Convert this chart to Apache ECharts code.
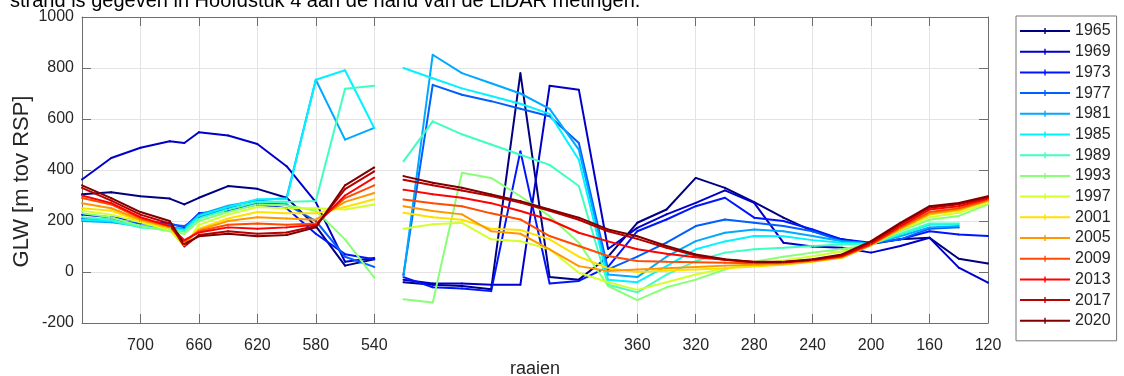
<!DOCTYPE html>
<html>
<head>
<meta charset="utf-8">
<script src="https://cdn.jsdelivr.net/npm/echarts@6/dist/echarts.min.js"></script>
<style>
  html, body { margin: 0; padding: 0; background: #fff; }
  #chart { width: 1124px; height: 376px; }
</style>
</head>
<body>
<div id="chart"></div>
<script>
// raaien (transect numbers) of the two measured stretches
const raaiLeft = [740, 720, 700, 680, 670, 660, 640, 620, 600, 580, 560, 540];
const raaiRight = [520, 500, 480, 460, 440, 420, 400, 380, 360, 340, 320, 300, 280, 260, 240, 220, 200, 180, 160, 140, 120];
const xTicks = [700, 660, 620, 580, 540, 360, 320, 280, 240, 200, 160, 120];
const years = ['1965', '1969', '1973', '1977', '1981', '1985', '1989', '1993', '1997', '2001', '2005', '2009', '2013', '2017', '2020'];

// GLW [m tov RSP], left stretch
const left1965 = [305, 313, 297, 288, 265, 291, 337, 326, 291, 180, 25, 50];
const left1969 = [363, 447, 487, 513, 506, 548, 535, 502, 415, 274, 40, 55];
const left1973 = [225, 215, 200, 190, 175, 230, 240, 265, 250, 150, 70, 50];
const left1977 = [210, 205, 190, 185, 180, 215, 250, 270, 265, 200, 60, 20];
const left1981 = [200, 195, 180, 175, 170, 225, 260, 280, 290, 754, 519, 565];
const left1985 = [205, 200, 175, 170, 165, 220, 255, 285, 285, 754, 791, 565];
const left1989 = [215, 205, 175, 165, 160, 210, 245, 275, 275, 278, 719, 730];
const left1993 = [230, 215, 180, 160, 150, 200, 235, 265, 262, 240, 128, -22];
const left1997 = [240, 225, 195, 165, 100, 185, 225, 255, 250, 250, 245, 265];
const left2001 = [250, 240, 200, 170, 105, 170, 210, 235, 230, 230, 255, 285];
const left2005 = [270, 250, 205, 175, 115, 165, 200, 215, 210, 205, 275, 310];
const left2009 = [290, 265, 210, 180, 120, 160, 185, 190, 185, 190, 290, 340];
const left2013 = [300, 270, 215, 180, 125, 155, 175, 170, 175, 185, 300, 370];
const left2017 = [330, 280, 225, 190, 100, 145, 160, 150, 155, 180, 325, 395];
const left2020 = [340, 290, 235, 200, 110, 140, 150, 140, 145, 175, 340, 410];

// GLW [m tov RSP], right stretch
const right1965 = [-40, -50, -55, -68, 780, -20, -30, 60, 193, 245, 369, 330, 274, 213, 160, 128, 110, 128, 134, 52, 33];
const right1969 = [-30, -45, -45, -50, -50, 730, 715, 90, 173, 226, 271, 320, 271, 115, 100, 95, 76, 102, 134, 17, -42];
const right1973 = [-20, -60, -65, -75, 474, -45, -35, 20, 160, 206, 258, 291, 213, 200, 167, 128, 115, 128, 160, 147, 141];
const right1977 = [-10, 734, 695, 670, 640, 611, 506, 10, 60, 115, 180, 206, 193, 180, 160, 121, 112, 128, 170, 175, null];
const right1981 = [-16, 852, 780, 740, 700, 640, 480, -10, -20, 60, 121, 154, 167, 160, 141, 121, 112, 140, 175, 180, null];
const right1985 = [800, 760, 720, 690, 660, 620, 440, -30, -40, 23, 89, 120, 141, 140, 125, 115, 110, 147, 185, 187, null];
const right1989 = [434, 591, 540, 500, 460, 420, 337, -50, -80, -10, 43, 76, 89, 95, 102, 108, 110, 150, 190, 190, null];
const right1993 = [-107, -120, 389, 369, 297, 219, 115, -55, -110, -60, -30, 10, 40, 60, 76, 90, 106, 160, 205, 220, 265];
const right1997 = [170, 187, 193, 128, 121, 89, -3, -40, -70, -40, -10, 15, 30, 45, 62, 80, 106, 165, 215, 232, 270];
const right2001 = [232, 215, 205, 170, 165, 128, 60, 15, 0, 5, 10, 15, 22, 28, 40, 56, 105, 165, 225, 240, 278];
const right2005 = [258, 239, 226, 160, 150, 89, 23, 4, 10, 15, 20, 25, 28, 32, 42, 58, 106, 170, 228, 245, 280];
const right2009 = [284, 270, 258, 230, 206, 141, 102, 63, 43, 40, 38, 36, 34, 36, 45, 60, 108, 175, 235, 250, 283];
const right2013 = [323, 305, 291, 270, 239, 205, 154, 120, 89, 72, 58, 48, 40, 40, 47, 62, 110, 180, 245, 258, 288];
const right2017 = [362, 340, 320, 298, 272, 240, 205, 160, 130, 95, 65, 48, 38, 38, 48, 66, 116, 188, 252, 266, 293];
const right2020 = [376, 350, 330, 304, 278, 245, 213, 167, 140, 102, 69, 50, 39, 39, 50, 69, 121, 193, 258, 271, 297];

const leftData = [left1965, left1969, left1973, left1977, left1981, left1985, left1989, left1993, left1997, left2001, left2005, left2009, left2013, left2017, left2020];
const rightData = [right1965, right1969, right1973, right1977, right1981, right1985, right1989, right1993, right1997, right2001, right2005, right2009, right2013, right2017, right2020];

// matlab jet colormap
function jet(t) {
  const c = v => Math.round(255 * Math.max(0, Math.min(1, v)));
  return 'rgb(' + c(1.5 - Math.abs(4 * t - 3)) + ',' + c(1.5 - Math.abs(4 * t - 2)) + ',' + c(1.5 - Math.abs(4 * t - 1)) + ')';
}

const font = 'Liberation Sans';
const axisColor = '#6e6e6e';
const textColor = '#262626';

const series = years.map((y, i) => {
  const data = [];
  raaiLeft.forEach((r, k) => data.push([r, leftData[i][k]]));
  data.push([530, '-']); // gap between the two stretches
  raaiRight.forEach((r, k) => {
    if (rightData[i][k] !== null) data.push([r, rightData[i][k]]);
  });
  return {
    name: y,
    type: 'line',
    data,
    color: jet((+y - 1965) / 55),
    lineStyle: { width: 2 },
    symbol: 'circle',
    symbolSize: 2,
    connectNulls: false
  };
});

const tickStyle = { inside: true, length: 9, lineStyle: { color: axisColor } };

const chart = echarts.init(document.getElementById('chart'));
const option = {
  animation: false,
  grid: { left: 82, right: 136, top: 17, bottom: 53, outerBoundsMode: 'none' },
  graphic: [{
    type: 'text',
    style: {
      x: 10,
      y: 11.5,
      verticalAlign: 'bottom',
      text: 'strand is gegeven in Hoofdstuk 4 aan de hand van de LiDAR metingen.',
      font: '20px Liberation Sans',
      fill: '#000'
    }
  }],
  legend: {
    orient: 'vertical',
    left: 1016,
    top: 16,
    itemWidth: 50,
    itemHeight: 6,
    itemGap: 4.7,
    padding: [7, 6, 12, 4],
    borderColor: '#777',
    borderWidth: 1,
    icon: 'path://M0,2H50V4H0ZM24.3,0H25.7V6H24.3Z',
    textStyle: { fontFamily: font, fontSize: 16, color: textColor },
    data: years
  },
  xAxis: [{
    type: 'value',
    inverse: true,
    min: 120,
    max: 740,
    name: 'raaien',
    nameLocation: 'middle',
    nameGap: 37,
    nameMoveOverlap: false,
    nameTextStyle: { fontFamily: font, fontSize: 18, color: textColor },
    axisLine: { onZero: false, lineStyle: { color: axisColor } },
    axisTick: Object.assign({ customValues: xTicks }, tickStyle),
    axisLabel: { customValues: xTicks, margin: 15, fontFamily: font, fontSize: 16, color: textColor },
    splitLine: { show: true, lineStyle: { color: '#e3e3e3' } }
  }, {
    type: 'value',
    position: 'top',
    inverse: true,
    min: 120,
    max: 740,
    axisLine: { onZero: false, lineStyle: { color: axisColor } },
    axisTick: Object.assign({ customValues: xTicks }, tickStyle),
    axisLabel: { show: false },
    splitLine: { show: false }
  }],
  yAxis: [{
    type: 'value',
    min: -200,
    max: 1000,
    interval: 200,
    name: 'GLW [m tov RSP]',
    nameLocation: 'middle',
    nameGap: 49,
    nameMoveOverlap: false,
    nameTextStyle: { fontFamily: font, fontSize: 22, color: textColor, padding: [0, 23, 0, 0] },
    axisLine: { show: true, onZero: false, lineStyle: { color: axisColor } },
    axisTick: Object.assign({ show: true }, tickStyle),
    axisLabel: { margin: 8, fontFamily: font, fontSize: 16, color: textColor, formatter: v => String(v) },
    splitLine: { show: true, lineStyle: { color: '#e3e3e3' } }
  }, {
    type: 'value',
    position: 'right',
    min: -200,
    max: 1000,
    interval: 200,
    axisLine: { show: true, onZero: false, lineStyle: { color: axisColor } },
    axisTick: Object.assign({ show: true }, tickStyle),
    axisLabel: { show: false },
    splitLine: { show: false }
  }],
  series
};
chart.setOption(option);
</script>
</body>
</html>
